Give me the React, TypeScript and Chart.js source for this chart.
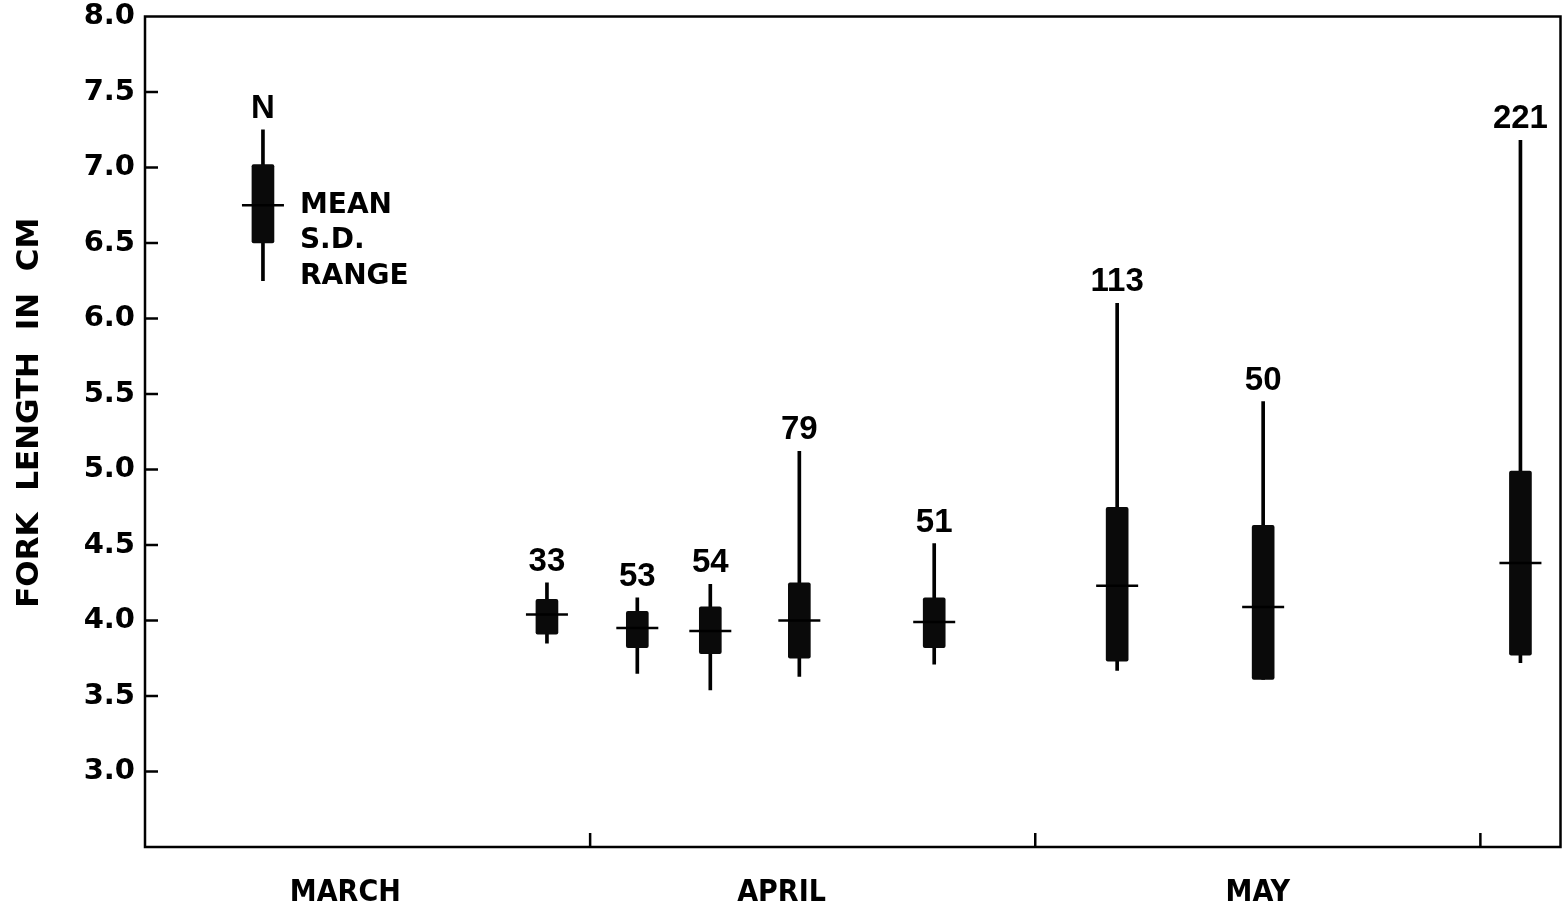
import React, { useEffect, useRef } from 'react';
import { Chart, registerables } from 'chart.js';

Chart.register(...registerables);

// Sample positions measured in months from 1 March (1 = 1 April, 2 = 1 May, 3 = 1 June)
const sampleLabels = ['33', '53', '54', '79', '51', '113', '50', '221'];
const samplePos = [0.903, 1.106, 1.27, 1.47, 1.773, 2.184, 2.512, 3.09];
const rangeMax = [4.25, 4.15, 4.24, 5.12, 4.51, 6.1, 5.45, 7.18];
const sdHigh = [4.14, 4.06, 4.09, 4.25, 4.15, 4.75, 4.63, 4.99];
const meanVals = [4.04, 3.95, 3.93, 4.0, 3.99, 4.23, 4.09, 4.38];
const sdLow = [3.91, 3.82, 3.78, 3.75, 3.82, 3.73, 3.61, 3.77];
const rangeMin = [3.85, 3.65, 3.54, 3.63, 3.71, 3.67, 3.61, 3.72];

// Key (legend) glyph drawn inside the plot
const keyLabel = 'N';
const keyPos = 0.265;
const keyRange = [6.25, 7.25];
const keySd = [6.5, 7.02];
const keyMean = 6.75;
const keyTexts = ['MEAN', 'S.D.', 'RANGE'];

// Axes
const monthNames = ['MARCH', 'APRIL', 'MAY'];
const monthLabelPos = [0.45, 1.43, 2.5];
const monthTicks = [1, 2, 3];
const xMax = 3.18;
const yMin = 2.5;
const yMax = 8.0;
const yStep = 0.5;
const yTitle = 'FORK  LENGTH  IN  CM';

const decor = {
  id: 'decor',
  afterDatasetsDraw(chart: any) {
    const { ctx, chartArea: a, scales } = chart;
    const x = scales.x;
    const y = scales.y;
    ctx.save();
    ctx.strokeStyle = '#000';
    ctx.fillStyle = '#000';
    ctx.lineWidth = 2.5;
    ctx.strokeRect(a.left, a.top, a.right - a.left, a.bottom - a.top);
    const line = (x1: number, y1: number, x2: number, y2: number) => {
      ctx.beginPath();
      ctx.moveTo(x1, y1);
      ctx.lineTo(x2, y2);
      ctx.stroke();
    };
    y.ticks.forEach((t: any) => {
      if (t.value > y.min && t.value < y.max) {
        const py = y.getPixelForValue(t.value);
        line(a.left, py, a.left + 13, py);
      }
    });
    monthTicks.forEach((v) => {
      const px = x.getPixelForValue(v);
      line(px, a.bottom, px, a.bottom - 14);
    });

    // N labels
    ctx.textAlign = 'center';
    ctx.textBaseline = 'middle';
    ctx.font = 'bold 33px "Liberation Sans", sans-serif';
    const allPos = [keyPos, ...samplePos];
    const allTop = [keyRange[1], ...rangeMax];
    const allLab = [keyLabel, ...sampleLabels];
    allPos.forEach((p, i) => {
      ctx.fillText(allLab[i], x.getPixelForValue(p), y.getPixelForValue(allTop[i]) - 21);
    });

    // key texts
    ctx.textAlign = 'left';
    ctx.font = 'bold 28px "DejaVu Sans", sans-serif';
    const kx = x.getPixelForValue(keyPos) + 37;
    const ky = y.getPixelForValue(keyMean);
    keyTexts.forEach((t, i) => ctx.fillText(t, kx, ky + i * 35.5));

    // month labels
    ctx.textAlign = 'center';
    ctx.font = 'bold 30px "Liberation Sans Narrow", "DejaVu Sans Condensed", "DejaVu Sans", sans-serif';
    monthNames.forEach((m, i) => {
      ctx.fillText(m, x.getPixelForValue(monthLabelPos[i]), a.bottom + 46);
    });

    // y-axis title
    ctx.save();
    ctx.translate(30, (a.top + a.bottom) / 2 - 19);
    ctx.rotate(-Math.PI / 2);
    ctx.textAlign = 'center';
    ctx.font = 'bold 31px "DejaVu Sans", sans-serif';
    ctx.fillText(yTitle, 0, 0);
    ctx.restore();

    ctx.restore();
  },
};

export default function App() {
  const ref = useRef<HTMLCanvasElement>(null);
  useEffect(() => {
    if (!ref.current) return;
    const xs = [keyPos, ...samplePos];
    const rLo = [keyRange[0], ...rangeMin];
    const rHi = [keyRange[1], ...rangeMax];
    const sLo = [keySd[0], ...sdLow];
    const sHi = [keySd[1], ...sdHigh];
    const mv = [keyMean, ...meanVals];
    const chart = new Chart(ref.current, {
      type: 'bar',
      data: {
        datasets: [
          {
            type: 'bar',
            label: 'Range',
            data: xs.map((x, i) => ({ x, y: [rLo[i], rHi[i]] })) as any,
            backgroundColor: '#000',
            barThickness: 3,
            grouped: false,
            order: 3,
          },
          {
            type: 'bar',
            label: 'S.D.',
            data: xs.map((x, i) => ({ x, y: [sLo[i], sHi[i]] })) as any,
            backgroundColor: '#0a0a0a',
            barThickness: 22,
            borderRadius: 2,
            borderSkipped: false,
            grouped: false,
            order: 2,
          },
          {
            type: 'line',
            label: 'Mean',
            data: xs.map((x, i) => ({ x, y: mv[i] })) as any,
            showLine: false,
            pointStyle: 'line',
            pointRadius: 21,
            pointHoverRadius: 21,
            pointBorderWidth: 2.5,
            pointBorderColor: '#000',
            pointBackgroundColor: '#000',
            order: 1,
          } as any,
        ],
      },
      options: {
        responsive: false,
        animation: false,
        devicePixelRatio: 1,
        layout: { padding: { top: 15, right: 4, left: 0, bottom: 0 } },
        plugins: { legend: { display: false }, tooltip: { enabled: false } },
        scales: {
          x: {
            type: 'linear',
            min: 0,
            max: xMax,
            offset: false,
            grid: { display: false, drawTicks: false },
            border: { display: false },
            ticks: { display: false, stepSize: 1 },
            afterFit: (s: any) => {
              s.height = 75;
            },
          },
          y: {
            type: 'linear',
            min: yMin,
            max: yMax,
            grid: { display: false, drawTicks: true, tickLength: 10 },
            border: { display: false },
            ticks: {
              stepSize: yStep,
              padding: 0,
              color: '#000',
              autoSkip: false,
              font: { family: '"DejaVu Sans", sans-serif', size: 29, weight: 'bold', lineHeight: 1 },
              callback: (v: any) => (Number(v) <= yMin ? '' : Number(v).toFixed(1)),
            },
            afterFit: (s: any) => {
              s.width = 145;
            },
          },
        },
      } as any,
      plugins: [decor],
    });
    return () => chart.destroy();
  }, []);
  return (
    <div style={{ position: 'fixed', left: 0, top: 0, width: 1564, height: 922, overflow: 'hidden', background: '#fff' }}>
      <canvas
        ref={ref}
        width={1584}
        height={929}
        style={{ display: 'block', position: 'absolute', left: 0, top: -7, width: 1584, height: 929 }}
      />
    </div>
  );
}
